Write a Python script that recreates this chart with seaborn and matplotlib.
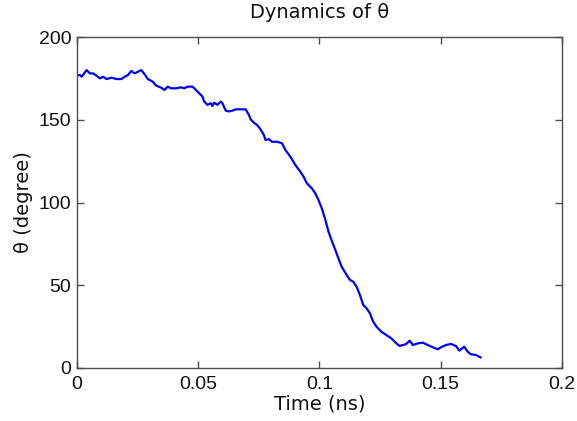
import matplotlib
matplotlib.use("Agg")
import matplotlib.pyplot as plt
import seaborn as sns
import pandas as pd

time_ns = [0.0, 0.00123, 0.00193, 0.00398, 0.00533, 0.00668, 0.00807, 0.00943, 0.01078, 0.01217,
           0.01422, 0.01627, 0.01832, 0.01967, 0.02102, 0.02242, 0.02377, 0.02512, 0.02652, 0.02787,
           0.02922, 0.03127, 0.03266, 0.03471, 0.03607, 0.03742, 0.03881, 0.04086, 0.04291, 0.04426,
           0.04561, 0.04766, 0.04906, 0.05041, 0.05176, 0.05246, 0.05381, 0.0552, 0.05586, 0.05656,
           0.05791, 0.0593, 0.05996, 0.06135, 0.0627, 0.06406, 0.06545, 0.0675, 0.06955, 0.0709,
           0.0716, 0.07295, 0.0743, 0.0757, 0.07705, 0.07775, 0.0791, 0.08045, 0.0825, 0.08455,
           0.08594, 0.08799, 0.09004, 0.09209, 0.09344, 0.0948, 0.09684, 0.09824, 0.09959, 0.10094,
           0.10234, 0.10369, 0.10504, 0.10643, 0.10779, 0.10914, 0.11119, 0.11258, 0.11393, 0.11529,
           0.11668, 0.11803, 0.11939, 0.12078, 0.12213, 0.12348, 0.12553, 0.12758, 0.12963, 0.13168,
           0.13307, 0.13443, 0.13578, 0.13717, 0.13852, 0.14057, 0.14262, 0.14467, 0.14672, 0.14877,
           0.15012, 0.15217, 0.15422, 0.15627, 0.15766, 0.15971, 0.16107, 0.16242, 0.16447, 0.16652]

theta_deg = [177.0, 177.0, 176.0, 180.0, 178.0, 178.0, 176.6, 175.0, 176.0, 174.6,
             175.4, 174.6, 174.6, 176.0, 177.0, 179.5, 178.0, 179.0, 180.0, 177.5,
             174.6, 173.0, 170.6, 169.4, 168.0, 170.0, 169.0, 169.0, 169.6, 169.0,
             170.0, 170.0, 168.0, 166.0, 164.0, 161.0, 159.0, 160.0, 158.3, 160.3,
             159.0, 161.0, 160.0, 155.5, 155.0, 155.5, 156.3, 156.3, 156.3, 152.9,
             150.3, 148.2, 146.8, 144.2, 140.8, 137.8, 138.3, 136.7, 136.7, 135.8,
             131.7, 127.7, 122.7, 118.6, 115.6, 111.6, 108.6, 105.6, 101.5, 96.5,
             90.0, 82.5, 77.0, 71.8, 66.3, 61.2, 56.2, 53.2, 52.1, 49.1,
             44.1, 38.1, 36.1, 33.1, 28.0, 25.0, 21.9, 19.9, 17.9, 14.9,
             13.3, 13.9, 14.5, 16.5, 13.9, 14.9, 15.3, 13.9, 12.5, 11.3,
             12.5, 13.9, 14.5, 13.3, 10.5, 12.9, 9.9, 8.3, 7.9, 6.3]

x_ticks = [0, 0.05, 0.1, 0.15, 0.2]
x_tick_labels = ["0", "0.05", "0.1", "0.15", "0.2"]
y_ticks = [0, 50, 100, 150, 200]

df = pd.DataFrame({"t": time_ns, "theta": theta_deg})

sns.set_style("white")
plt.rcParams["font.family"] = ["DejaVu Sans"]

fig = plt.figure(figsize=(5.77, 4.21), dpi=100)
ax = fig.add_axes([0.1334, 0.1259, 0.8406, 0.7862])

sns.lineplot(data=df, x="t", y="theta", color="#0000ff", linewidth=1.6,
             estimator=None, sort=False, ax=ax)

ax.set_xlim(0, 0.2)
ax.set_ylim(0, 200)
ax.set_xticks(x_ticks)
ax.set_xticklabels(x_tick_labels)
ax.set_yticks(y_ticks)

axis_col = "#4d4d4d"
for s in ax.spines.values():
    s.set_visible(True)
    s.set_color(axis_col)
    s.set_linewidth(1.0)
ax.tick_params(direction="in", length=5, width=1, colors=axis_col,
               labelcolor="#111111", labelsize=14, top=True, right=True,
               bottom=True, left=True)
ax.tick_params(axis="x", pad=6)
ax.tick_params(axis="y", pad=4)
for lab in ax.get_xticklabels() + ax.get_yticklabels():
    lab.set_fontfamily(["Liberation Sans", "DejaVu Sans"])

ax.set_xlabel("Time (ns)", fontsize=14, labelpad=1, color="#111111")
ax.set_ylabel("θ (degree)", fontsize=14, labelpad=4, color="#111111")
ax.set_title("Dynamics of θ", fontsize=14, pad=14, color="#111111")

fig.savefig("out.png", dpi=100, facecolor="white")
